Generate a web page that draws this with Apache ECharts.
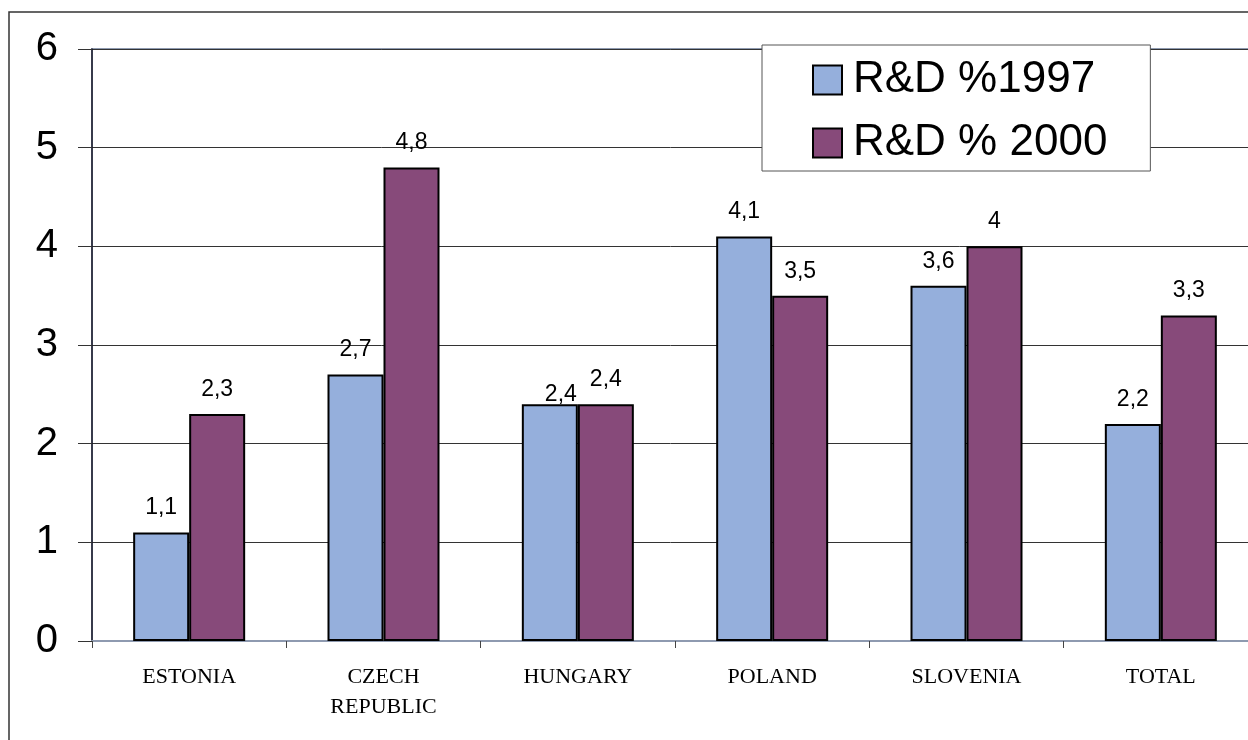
<!DOCTYPE html>
<html>
<head>
<meta charset="utf-8">
<script src="https://cdn.jsdelivr.net/npm/echarts@6/dist/echarts.min.js"></script>
<style>
  html, body { margin: 0; padding: 0; background: #fff; }
  #chart { width: 1248px; height: 740px; }
</style>
</head>
<body>
<div id="chart"></div>
<script>
const categories = ['ESTONIA', 'CZECH\nREPUBLIC', 'HUNGARY', 'POLAND', 'SLOVENIA', 'TOTAL']
const rd1997 = [1.1, 2.7, 2.4, 4.1, 3.6, 2.2]
const rd2000 = [2.3, 4.8, 2.4, 3.5, 4.0, 3.3]
const seriesNames = ['R&D %1997', 'R&D % 2000']
const yTicks = [0, 1, 2, 3, 4, 5, 6]

const chart = echarts.init(document.getElementById('chart'))

function fmt(p) {
  return String(p.value).replace('.', ',')
}

const labelStyle = {
  show: true,
  position: 'top',
  distance: 13,
  fontFamily: 'Liberation Sans, Arial, sans-serif',
  fontSize: 23,
  color: '#000',
  formatter: fmt
}

// Hungary 1997 label sits lower in the original (overlap shift)
const data1997 = rd1997.map((v, i) =>
  i === 2 ? { value: v, label: { offset: [11, 15] } } : v
)

chart.setOption({
  animation: false,
  graphic: [
    {
      type: 'rect',
      shape: { x: 9, y: 12, width: 1300, height: 800 },
      style: { fill: 'none', stroke: '#333', lineWidth: 1.5 },
      silent: true,
      z: 0
    }
  ],
  grid: {
    left: 92,
    right: -10,
    top: 49,
    bottom: 99,
    outerBoundsMode: 'none',
    containLabel: false,
    show: true,
    borderColor: '#8e9ab0',
    borderWidth: 2,
    backgroundColor: 'transparent'
  },
  legend: {
    orient: 'vertical',
    left: 762,
    top: 45,
    padding: [13, 43, 6, 50],
    itemWidth: 29,
    itemHeight: 29,
    itemGap: 19,
    backgroundColor: '#fff',
    borderColor: '#555',
    borderWidth: 1,
    icon: 'rect',
    textStyle: {
      fontFamily: 'Liberation Sans, Arial, sans-serif',
      fontSize: 44,
      color: '#000',
      padding: [0, 0, 0, 6]
    },
    data: seriesNames
  },
  xAxis: {
    type: 'category',
    data: categories,
    axisLine: { lineStyle: { color: '#8e9ab0', width: 2 } },
    axisTick: { show: true, length: 7, lineStyle: { color: '#444' } },
    axisLabel: {
      fontFamily: 'Liberation Serif, Times New Roman, serif',
      fontSize: 22,
      lineHeight: 30,
      color: '#000',
      margin: 21
    }
  },
  yAxis: {
    type: 'value',
    min: 0,
    max: 6,
    interval: 1,
    axisLine: { show: true, lineStyle: { color: '#1a1a2a', width: 1.5 } },
    axisTick: { show: true, length: 14, lineStyle: { color: '#333' } },
    axisLabel: {
      fontFamily: 'Liberation Sans, Arial, sans-serif',
      fontSize: 40,
      color: '#000',
      margin: 34,
      formatter: v => (yTicks.includes(v) ? String(v) : '')
    },
    splitLine: { show: true, lineStyle: { color: '#333', width: 1 } }
  },
  series: [
    {
      name: seriesNames[0],
      type: 'bar',
      data: data1997,
      barWidth: 56,
      barGap: '0%',
      itemStyle: { color: '#95afdc', borderColor: '#000', borderWidth: 2 },
      label: labelStyle
    },
    {
      name: seriesNames[1],
      type: 'bar',
      data: rd2000,
      barWidth: 56,
      barGap: '0%',
      itemStyle: { color: '#874a7a', borderColor: '#000', borderWidth: 2 },
      label: labelStyle
    }
  ]
})
</script>
</body>
</html>
